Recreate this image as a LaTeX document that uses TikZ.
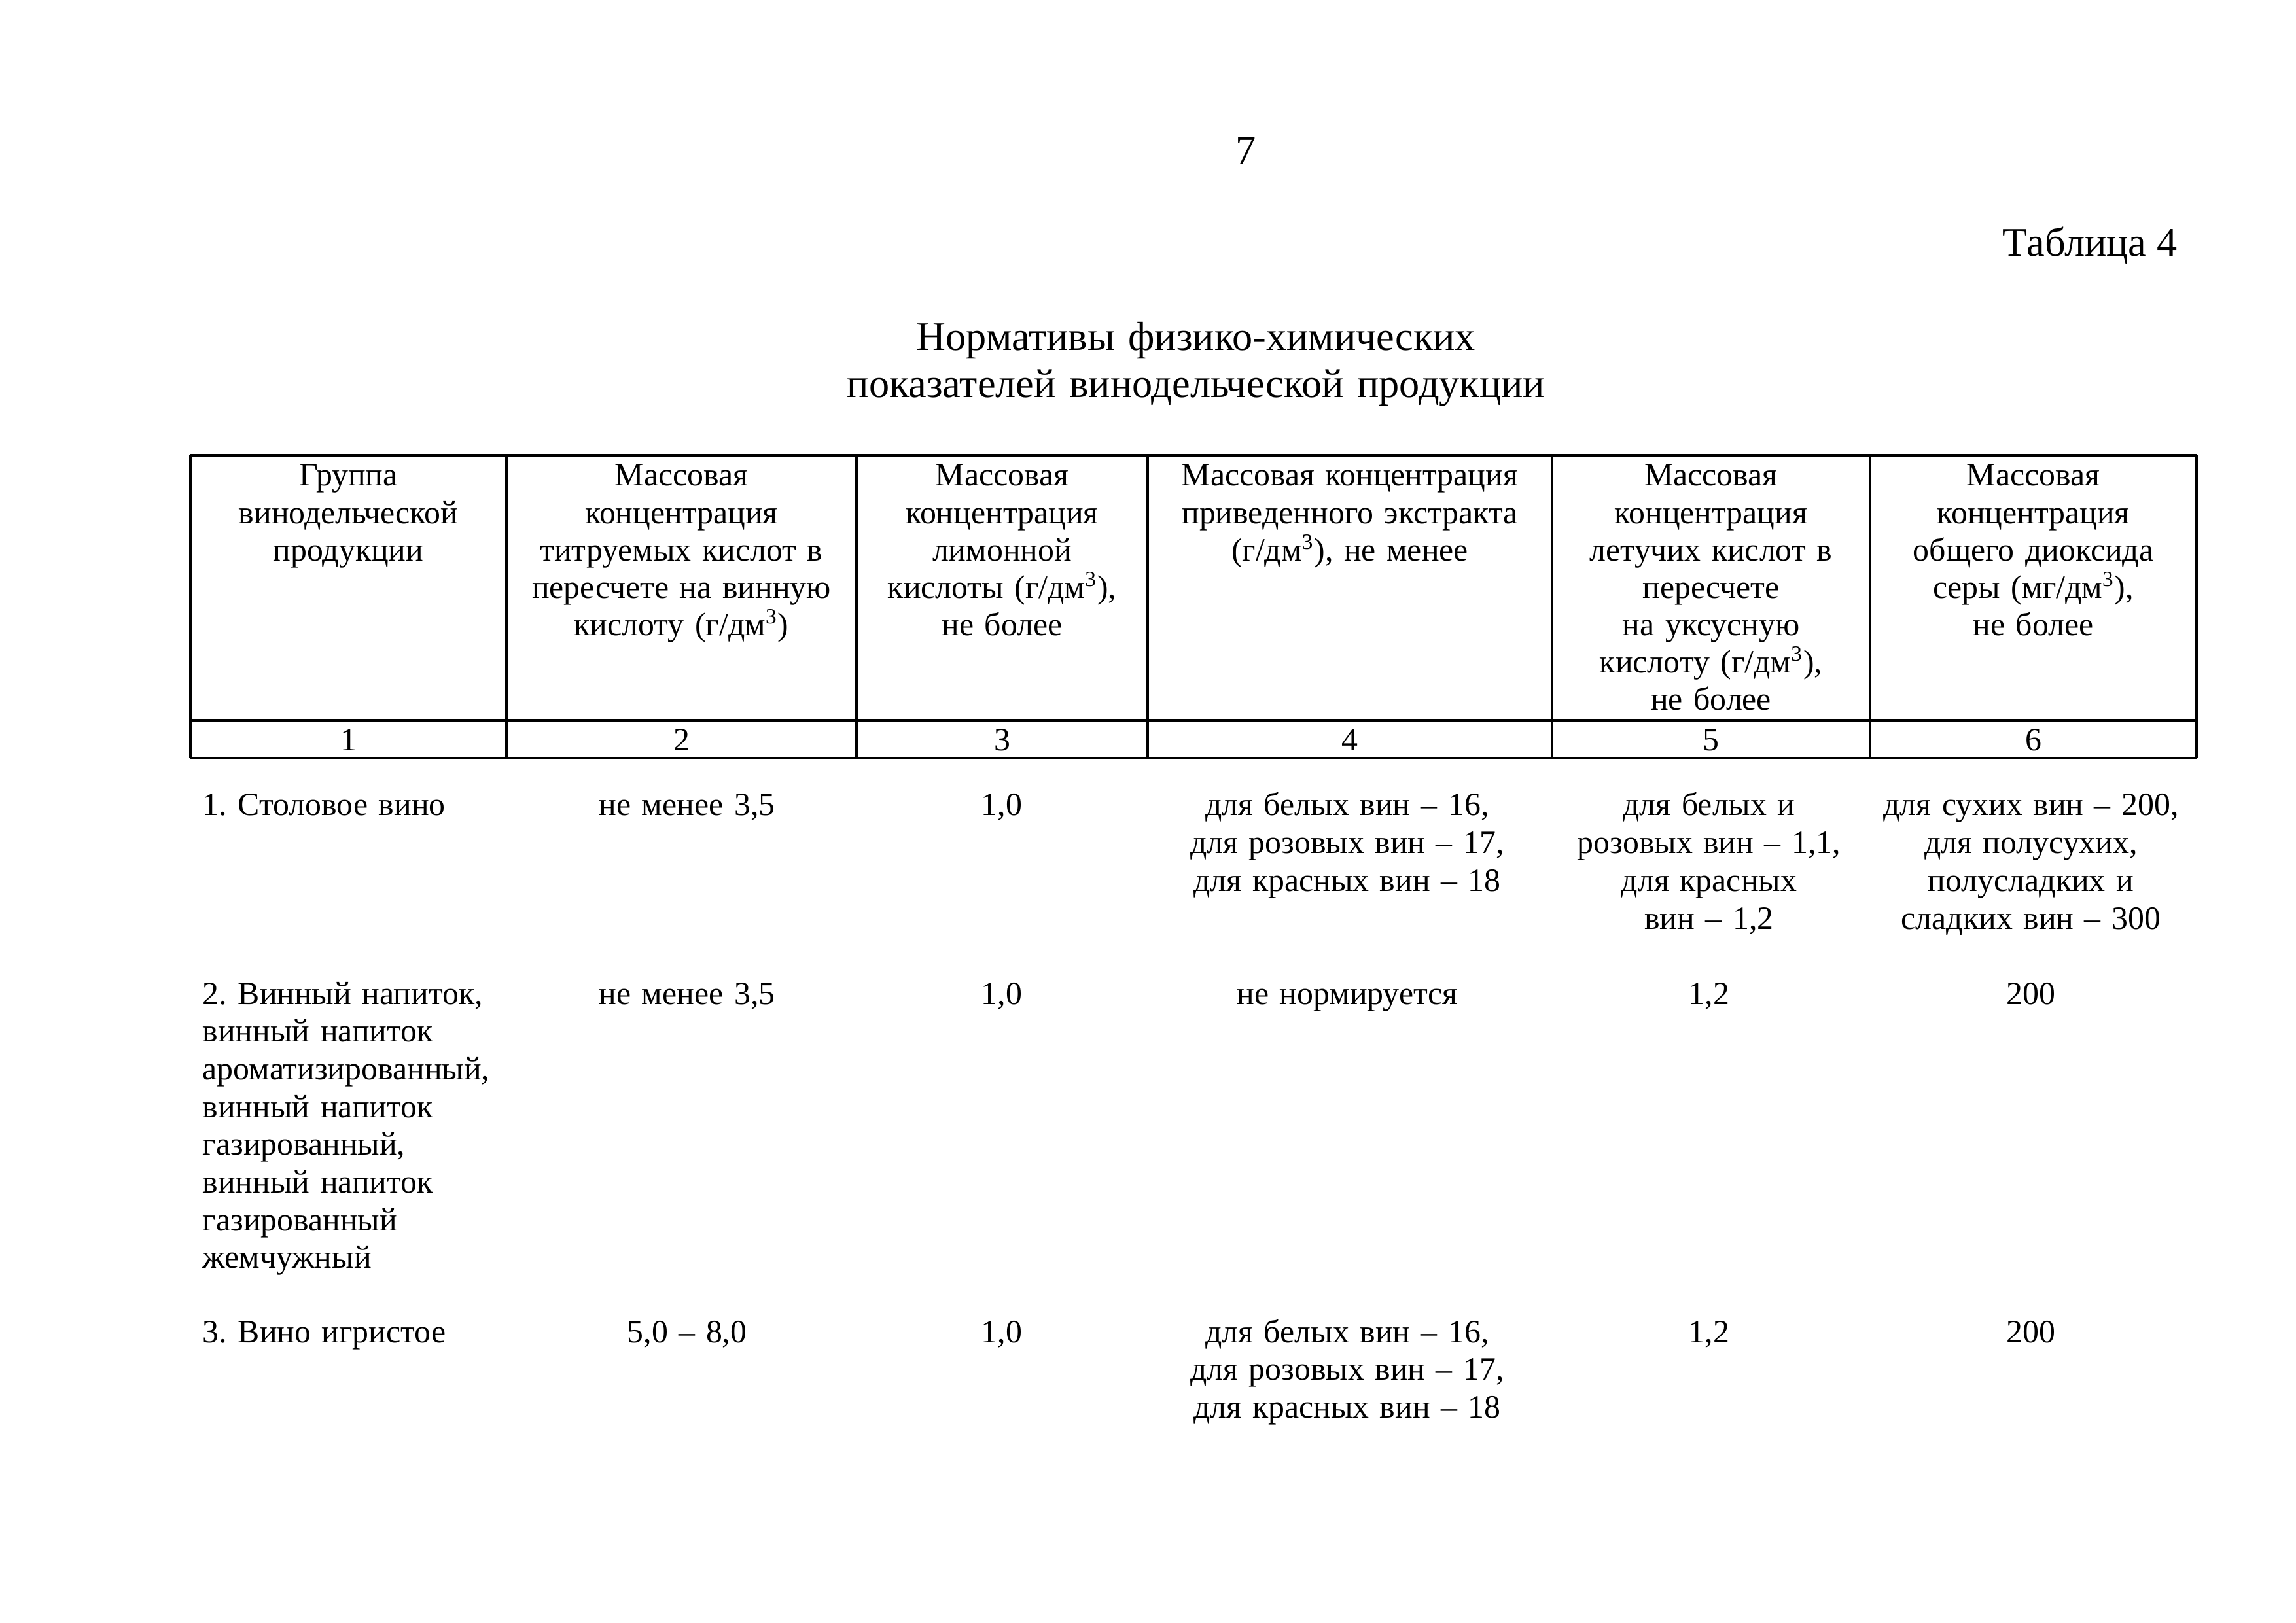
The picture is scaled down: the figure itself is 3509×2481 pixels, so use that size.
\documentclass[tikz,border=0pt]{standalone}
\usepackage{fontspec}
\setmainfont{Liberation Serif}
\frenchspacing
\begin{document}
\begin{tikzpicture}[x=0.0846667mm,y=-0.0846667mm,
  hline/.style={line width=1pt,black},
  vline/.style={line width=0.8pt,black},
  hdr/.style={anchor=base,align=center,inner sep=0pt,font=\fontsize{12}{13.75}\selectfont},
  cell/.style={anchor=base,align=center,inner sep=0pt,font=\fontsize{12}{13.9}\selectfont},
  lcell/.style={anchor=base west,align=left,inner sep=0pt,font=\fontsize{12}{13.9}\selectfont},
  ttl/.style={anchor=base,align=center,inner sep=0pt,font=\fontsize{15}{17.3}\selectfont}]
\useasboundingbox[fill=white] (0,0) rectangle (3509,2481);
% page number, table label, title
\node[ttl] (pnum) at (1904,251) {7};
\node[ttl,anchor=base east] (tlabel) at (3328,392) {Таблица 4};
\node[ttl,text width=1800] (title) at (1828,536) {Нормативы физико-химических\\показателей винодельческой продукции};
% table grid
\coordinate (tl) at (291,696);
\coordinate (tr) at (3357,696);
\coordinate (ml) at (291,1101);
\coordinate (mr) at (3357,1101);
\coordinate (bl) at (291,1159);
\coordinate (br) at (3357,1159);
\draw[hline] (tl) -- (tr);
\draw[hline] (ml) -- (mr);
\draw[hline] (bl) -- (br);
\foreach \xx in {291,774,1309,1754,2372,2858,3357}{
  \draw[vline] (\xx,696) -- (\xx,1159);
}
% header
\node[hdr,text width=460] (h1) at (532.5,743) {Группа\\винодельческой\\продукции};
\node[hdr,text width=520] (h2) at (1041.5,743) {Массовая\\концентрация\\титруемых кислот в\\пересчете на винную\\кислоту (г/дм\textsuperscript{3})};
\node[hdr,text width=430] (h3) at (1531.5,743) {Массовая\\концентрация\\лимонной\\кислоты (г/дм\textsuperscript{3}),\\не более};
\node[hdr,text width=600] (h4) at (2063,743) {Массовая концентрация\\приведенного экстракта\\(г/дм\textsuperscript{3}), не менее};
\node[hdr,text width=470] (h5) at (2615,743) {Массовая\\концентрация\\летучих кислот в\\пересчете\\на уксусную\\кислоту (г/дм\textsuperscript{3}),\\не более};
\node[hdr,text width=480] (h6) at (3107.5,743) {Массовая\\концентрация\\общего диоксида\\серы (мг/дм\textsuperscript{3}),\\не более};
% column numbers
\node[hdr] (n1) at (532.5,1148) {1};
\node[hdr] (n2) at (1041.5,1148) {2};
\node[hdr] (n3) at (1531.5,1148) {3};
\node[hdr] (n4) at (2063,1148) {4};
\node[hdr] (n5) at (2615,1148) {5};
\node[hdr] (n6) at (3107.5,1148) {6};
% row 1
\node[lcell,text width=470] (r1c1) at (309,1247) {1. Столовое вино};
\node[cell,text width=520] (r1c2) at (1050,1247) {не менее 3,5};
\node[cell,text width=430] (r1c3) at (1531,1247) {1,0};
\node[cell,text width=600] (r1c4) at (2059,1247) {для белых вин – 16,\\для розовых вин – 17,\\для красных вин – 18};
\node[cell,text width=470] (r1c5) at (2612,1247) {для белых и\\розовых вин – 1,1,\\для красных\\вин – 1,2};
\node[cell,text width=490] (r1c6) at (3104,1247) {для сухих вин – 200,\\для полусухих,\\полусладких и\\сладких вин – 300};
% row 2
\node[lcell,text width=470] (r2c1) at (309,1535) {2. Винный напиток,\\винный напиток\\ароматизированный,\\винный напиток\\газированный,\\винный напиток\\газированный\\жемчужный};
\node[cell,text width=520] (r2c2) at (1050,1535) {не менее 3,5};
\node[cell,text width=430] (r2c3) at (1531,1535) {1,0};
\node[cell,text width=600] (r2c4) at (2059,1535) {не нормируется};
\node[cell,text width=470] (r2c5) at (2612,1535) {1,2};
\node[cell,text width=490] (r2c6) at (3104,1535) {200};
% row 3
\node[lcell,text width=470] (r3c1) at (309,2052) {3. Вино игристое};
\node[cell,text width=520] (r3c2) at (1050,2052) {5,0 – 8,0};
\node[cell,text width=430] (r3c3) at (1531,2052) {1,0};
\node[cell,text width=600] (r3c4) at (2059,2052) {для белых вин – 16,\\для розовых вин – 17,\\для красных вин – 18};
\node[cell,text width=470] (r3c5) at (2612,2052) {1,2};
\node[cell,text width=490] (r3c6) at (3104,2052) {200};
\end{tikzpicture}
\end{document}
